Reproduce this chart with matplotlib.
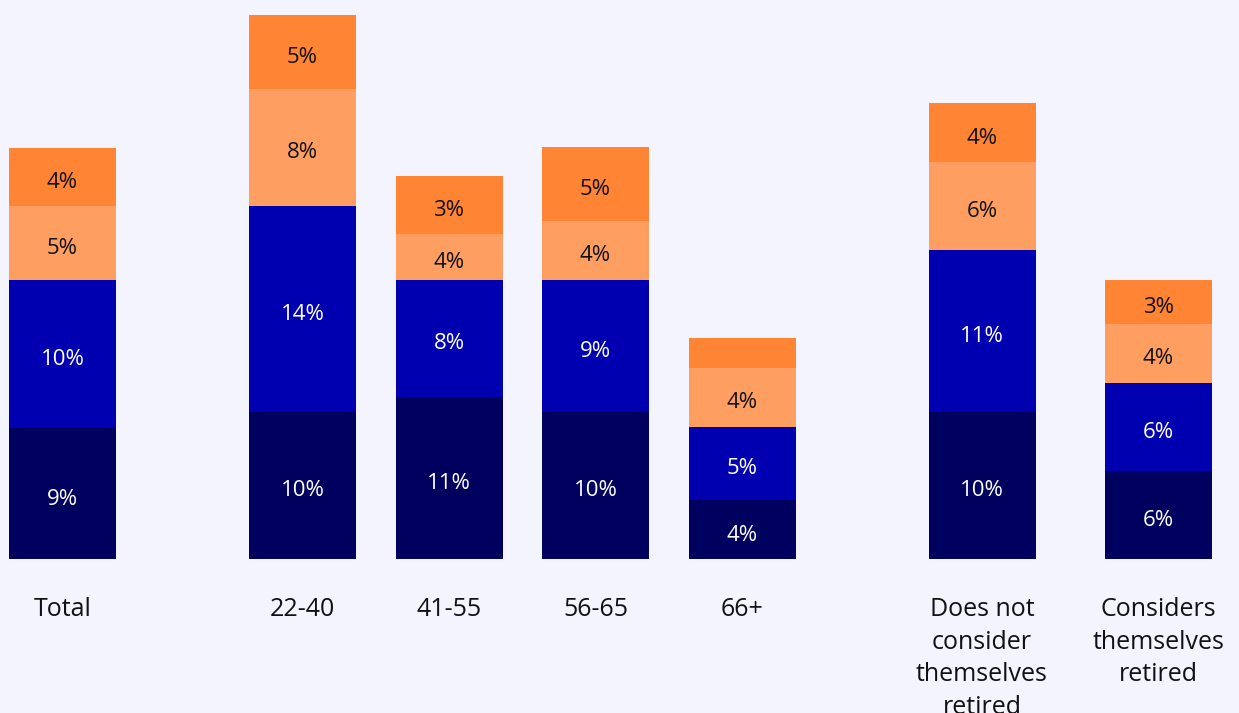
import matplotlib
matplotlib.use("Agg")
import matplotlib.pyplot as plt
from matplotlib.transforms import offset_copy

categories = ["Total", "22-40", "41-55", "56-65", "66+",
              "Does not\nconsider\nthemselves\nretired", "Considers\nthemselves\nretired"]
# segment values (%), bottom to top
navy = [8.9, 10.0, 11.0, 10.0, 4.0, 10.0, 6.0]
blue = [10.1, 14.0, 8.0, 9.0, 5.0, 11.0, 6.0]
light = [5.0, 8.0, 3.1, 4.0, 4.0, 6.0, 4.0]
orange = [3.95, 5.0, 3.95, 5.0, 2.0, 4.0, 3.0]
# displayed labels
navy_lbl = ["9%", "10%", "11%", "10%", "4%", "10%", "6%"]
blue_lbl = ["10%", "14%", "8%", "9%", "5%", "11%", "6%"]
light_lbl = ["5%", "8%", "4%", "4%", "4%", "6%", "4%"]
orange_lbl = ["4%", "5%", "3%", "5%", "", "4%", "3%"]

# layout (pixel-based x positions)
xpos = [62.5, 302.5, 449, 595.5, 742, 982, 1158.5]
bar_w = 107

W, H = 1239, 713
bg = "#F4F4FE"
fig = plt.figure(figsize=(W / 100, H / 100), dpi=100, facecolor=bg)
bottom_px, top_px = 559, 15
ax = fig.add_axes([0, (H - bottom_px) / H, 1, (bottom_px - top_px) / H])
ax.set_facecolor(bg)
ax.set_xlim(0, W)
ax.set_ylim(0, 37)
ax.axis("off")

font = "Open Sans"
lbl_tr = offset_copy(ax.transData, fig=fig, x=0, y=-3, units="dots")
series = [(navy, navy_lbl, "#00005E", "white"),
          (blue, blue_lbl, "#0000B0", "white"),
          (light, light_lbl, "#FF9E61", "#111111"),
          (orange, orange_lbl, "#FF8434", "#111111")]
base = [0.0] * len(categories)
for vals, lbls, col, tcol in series:
    ax.bar(xpos, vals, width=bar_w, bottom=base, color=col, linewidth=0)
    for x, b, v, l in zip(xpos, base, vals, lbls):
        if l:
            ax.text(x, b + v / 2, l, ha="center", va="center_baseline", color=tcol,
                    fontsize=16, family=font, transform=lbl_tr)
    base = [b + v for b, v in zip(base, vals)]

for x, c in zip(xpos, categories):
    fig.text(x / W, 1 - 597 / H, c, ha="center", va="top", fontsize=18,
             family=font, color="#111111", linespacing=1.4)

fig.savefig("out.png", dpi=100, facecolor=bg)
